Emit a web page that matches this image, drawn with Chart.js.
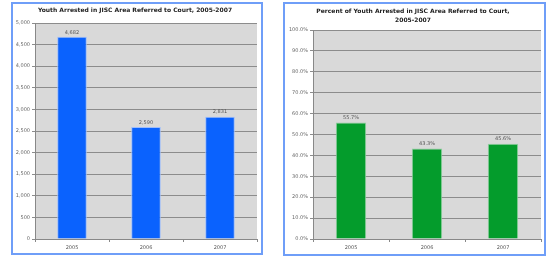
<!DOCTYPE html>
<html>
<head>
<meta charset="utf-8">
<script src="https://cdn.jsdelivr.net/npm/chart.js@4.4.1/dist/chart.umd.min.js"></script>
<style>
	body { margin: 0; background: #fff; width: 548px; height: 257px; position: relative; overflow: hidden; }
	.panel { position: absolute; border: 2px solid #6f9ef8; box-sizing: border-box; background: #fff; }
	.panel canvas { display: block; }
</style>
</head>
<body>
<div class="panel" style="left:11px; top:2px; width:252px; height:253px;">
	<canvas id="countChart" width="248" height="249" style="width:248px;height:249px"></canvas>
</div>
<div class="panel" style="left:283px; top:2px; width:263px; height:254px;">
	<canvas id="percentChart" width="259" height="250" style="width:259px;height:250px"></canvas>
</div>
<script>
const years = ['2005', '2006', '2007'];
const youthReferred = [4682, 2590, 2831];
const percentReferred = [55.7, 43.3, 45.6];
const countTicks = [0, 500, 1000, 1500, 2000, 2500, 3000, 3500, 4000, 4500, 5000];
const percentTicks = [0, 10, 20, 30, 40, 50, 60, 70, 80, 90, 100];

const FONT = 'DejaVu Sans';

// gray plot background + value labels above the bars
const plotBackground = {
	id: 'plotBackground',
	beforeDraw(chart) {
		let a = chart.chartArea;
		let ctx = chart.ctx;
		ctx.save();
		ctx.fillStyle = '#d9d9d9';
		ctx.fillRect(a.left, a.top, a.right - a.left, a.bottom - a.top);
		ctx.restore();
	}
};

const valueLabels = {
	id: 'valueLabels',
	afterDatasetsDraw(chart, args, opts) {
		let ctx = chart.ctx;
		ctx.save();
		ctx.font = '5px "' + FONT + '"';
		ctx.fillStyle = '#555';
		ctx.textAlign = 'center';
		ctx.textBaseline = 'bottom';
		chart.getDatasetMeta(0).data.forEach((bar, i) => {
			ctx.fillText(opts.format(chart.data.datasets[0].data[i]), bar.x, bar.y - 2);
		});
		ctx.restore();
	}
};

function makeChart(id, o) {
	return new Chart(document.getElementById(id), {
		type: 'bar',
		data: {
			labels: years,
			datasets: [{
				data: o.values,
				backgroundColor: o.color,
				borderColor: o.edge,
				borderWidth: 1,
				categoryPercentage: 1,
				barPercentage: 0.4
			}]
		},
		options: {
			responsive: false,
			animation: false,
			layout: { padding: o.padding },
			plugins: {
				legend: { display: false },
				tooltip: { enabled: false },
				title: {
					display: true,
					text: o.title,
					color: '#222',
					font: { family: FONT, size: 6, weight: 'bold', lineHeight: 1.45 },
					padding: o.titlePadding
				},
				valueLabels: { format: o.format }
			},
			scales: {
				x: {
					grid: { display: true, offset: true, drawOnChartArea: false, tickLength: 3, color: '#888' },
					border: { color: '#888' },
					ticks: { color: '#555', font: { family: FONT, size: 5 }, padding: 3 },
					afterFit: (s) => { s.height = o.xHeight; }
				},
				y: {
					min: 0,
					max: o.max,
					afterBuildTicks: (s) => { s.ticks = o.ticks.map((v) => ({ value: v })); },
					grid: { color: '#8c8c8c', tickLength: 3 },
					border: { color: '#888' },
					ticks: {
						color: '#666',
						font: { family: FONT, size: 5 },
						padding: 2,
						callback: o.tickFormat
					},
					afterFit: (s) => { s.width = o.yWidth; }
				}
			}
		},
		plugins: [plotBackground, valueLabels]
	});
}

makeChart('countChart', {
	values: youthReferred,
	color: '#0a62fe',
	edge: '#9dbdfc',
	max: 5000,
	ticks: countTicks,
	title: 'Youth Arrested in JISC Area Referred to Court, 2005-2007',
	titlePadding: { top: 2, bottom: 8.3 },
	padding: { left: 0, right: 4, top: 0, bottom: 0 },
	yWidth: 22,
	xHeight: 14,
	format: (v) => v.toLocaleString('en-US'),
	tickFormat: (v) => v.toLocaleString('en-US')
});

makeChart('percentChart', {
	values: percentReferred,
	color: '#049c2c',
	edge: '#8fd09f',
	max: 100,
	ticks: percentTicks,
	title: ['Percent of Youth Arrested in JISC Area Referred to Court,', '2005-2007'],
	titlePadding: { top: 3, bottom: 5.6 },
	padding: { left: 0, right: 3, top: 0, bottom: 0 },
	yWidth: 28,
	xHeight: 15,
	format: (v) => v.toFixed(1) + '%',
	tickFormat: (v) => v.toFixed(1) + '%'
});
</script>
</body>
</html>
